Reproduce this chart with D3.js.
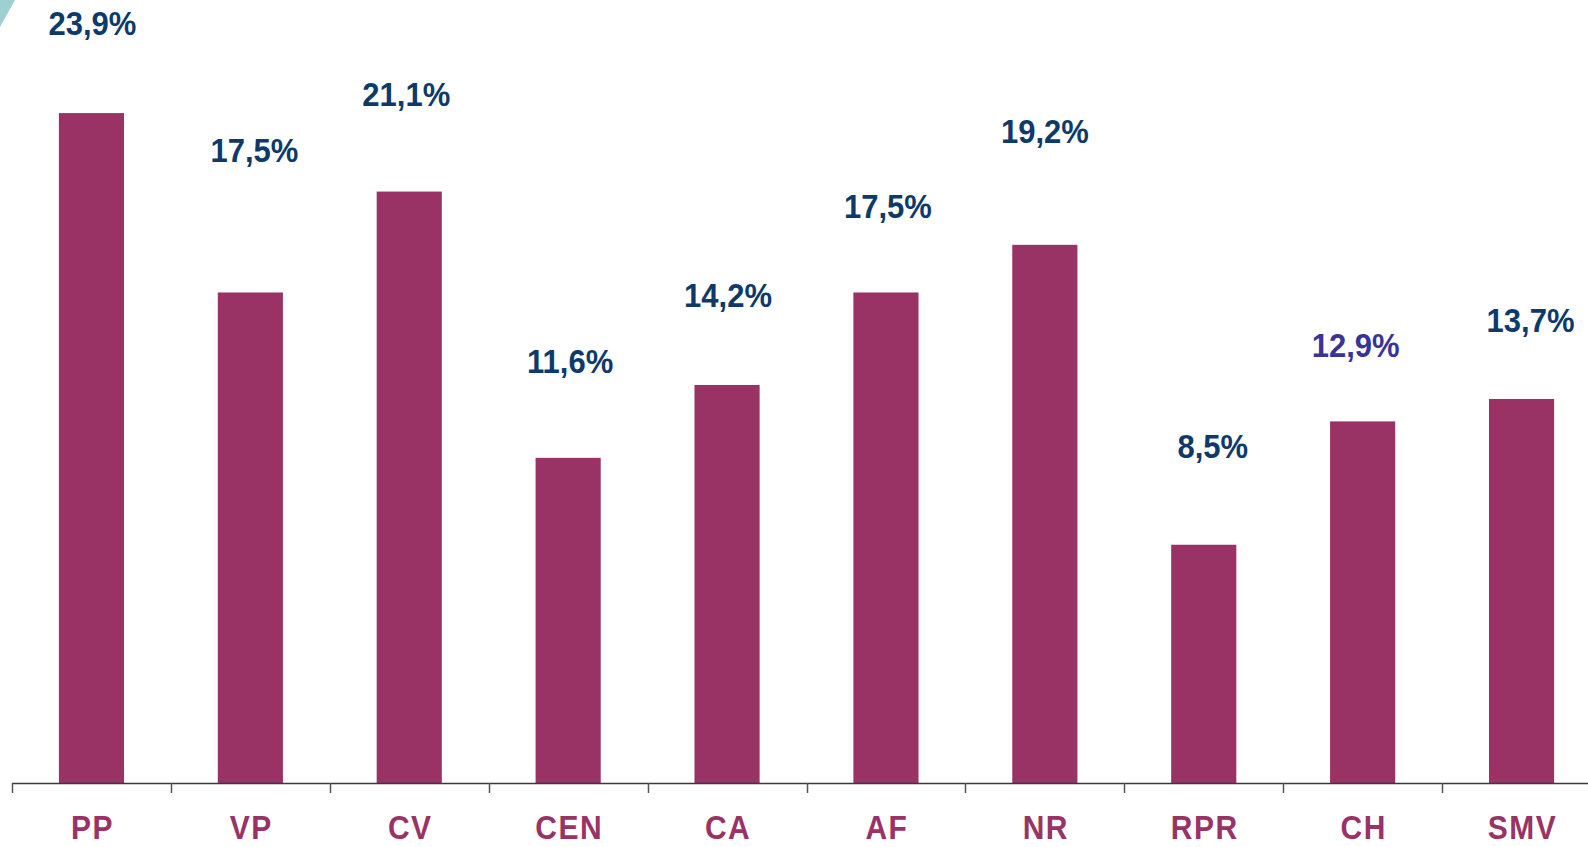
<!DOCTYPE html>
<html>
<head>
<meta charset="utf-8">
<script src="https://cdn.jsdelivr.net/npm/d3@7"></script>
<style>
    html, body { margin: 0; padding: 0; background: #fff; overflow: hidden; }
    svg { display: block; }
</style>
</head>
<body>
<svg id="chart" width="1588" height="847"></svg>
<script>
// categories and values
var categories = ["PP", "VP", "CV", "CEN", "CA", "AF", "NR", "RPR", "CH", "SMV"];
var values = [23.9, 17.5, 21.1, 11.6, 14.2, 17.5, 19.2, 8.5, 12.9, 13.7];
var valueLabels = ["23,9%", "17,5%", "21,1%", "11,6%", "14,2%", "17,5%", "19,2%", "8,5%", "12,9%", "13,7%"];

// label placement (px gap above bar top, horizontal nudge) - the source places them by hand
var labelGap = [78, 130, 86, 85, 78, 74, 102, 87, 64, 67];
var labelDx = [1, 4, -3, 2, 1, 2, 0, 9, -7, 9];
var labelColor = ["#0d3a6b", "#0d3a6b", "#0d3a6b", "#0d3a6b", "#0d3a6b", "#0d3a6b", "#0d3a6b", "#0d3a6b", "#3a3396", "#0d3a6b"];

var BAR_COLOR = "#993366";

var svg = d3.select("#chart");
var baseY = 783;

var x = d3.scaleBand()
    .domain(categories)
    .range([12, 12 + 158.9 * categories.length])
    .padding(0);

var y = d3.scaleLinear()
    .domain([0, 25])
    .range([baseY, baseY - 25 * 28.03]);

var barW = x.bandwidth() * 0.41;

// teal corner decoration
svg.append("polygon")
    .attr("points", "0,0 15,0 0,27")
    .attr("fill", "#9fd0d0");

// bars
svg.append("g")
    .selectAll("rect")
    .data(values)
    .enter().append("rect")
    .attr("x", function(d, i) { return x(categories[i]) + x.bandwidth() / 2 - barW / 2; })
    .attr("y", function(d) { return y(d); })
    .attr("width", barW)
    .attr("height", function(d) { return baseY - y(d); })
    .attr("fill", BAR_COLOR);

// value labels (text in the source is a bit taller than Arial, hence the scale)
svg.append("g")
    .selectAll("text")
    .data(values)
    .enter().append("text")
    .attr("transform", function(d, i) {
        var lx = x(categories[i]) + x.bandwidth() / 2 + labelDx[i];
        var ly = y(d) - labelGap[i];
        return "translate(" + lx + "," + ly + ") scale(1,1.07)";
    })
    .attr("text-anchor", "middle")
    .attr("font-family", "'Liberation Sans', Arial, sans-serif")
    .attr("font-weight", "bold")
    .attr("font-size", "31px")
    .attr("fill", function(d, i) { return labelColor[i]; })
    .text(function(d, i) { return valueLabels[i]; });

// axis line + boundary ticks
var axis = svg.append("g");
axis.append("line")
    .attr("x1", 12).attr("x2", 1588)
    .attr("y1", baseY + 0.5).attr("y2", baseY + 0.5)
    .attr("stroke", "#3a3a3a")
    .attr("stroke-width", 1.5);

axis.selectAll("line.tick")
    .data(categories)
    .enter().append("line")
    .attr("class", "tick")
    .attr("x1", function(d) { return Math.round(x(d)) + 0.5; })
    .attr("x2", function(d) { return Math.round(x(d)) + 0.5; })
    .attr("y1", baseY)
    .attr("y2", baseY + 10)
    .attr("stroke", "#555")
    .attr("stroke-width", 1.5);

// category labels
axis.selectAll("text")
    .data(categories)
    .enter().append("text")
    .attr("transform", function(d) {
        return "translate(" + (x(d) + x.bandwidth() / 2 + 1) + ",839) scale(1,1.1)";
    })
    .attr("text-anchor", "middle")
    .attr("font-family", "'Liberation Sans', Arial, sans-serif")
    .attr("font-weight", "bold")
    .attr("font-size", "30px")
    .attr("letter-spacing", "1.5px")
    .attr("fill", BAR_COLOR)
    .text(function(d) { return d; });
</script>
</body>
</html>
